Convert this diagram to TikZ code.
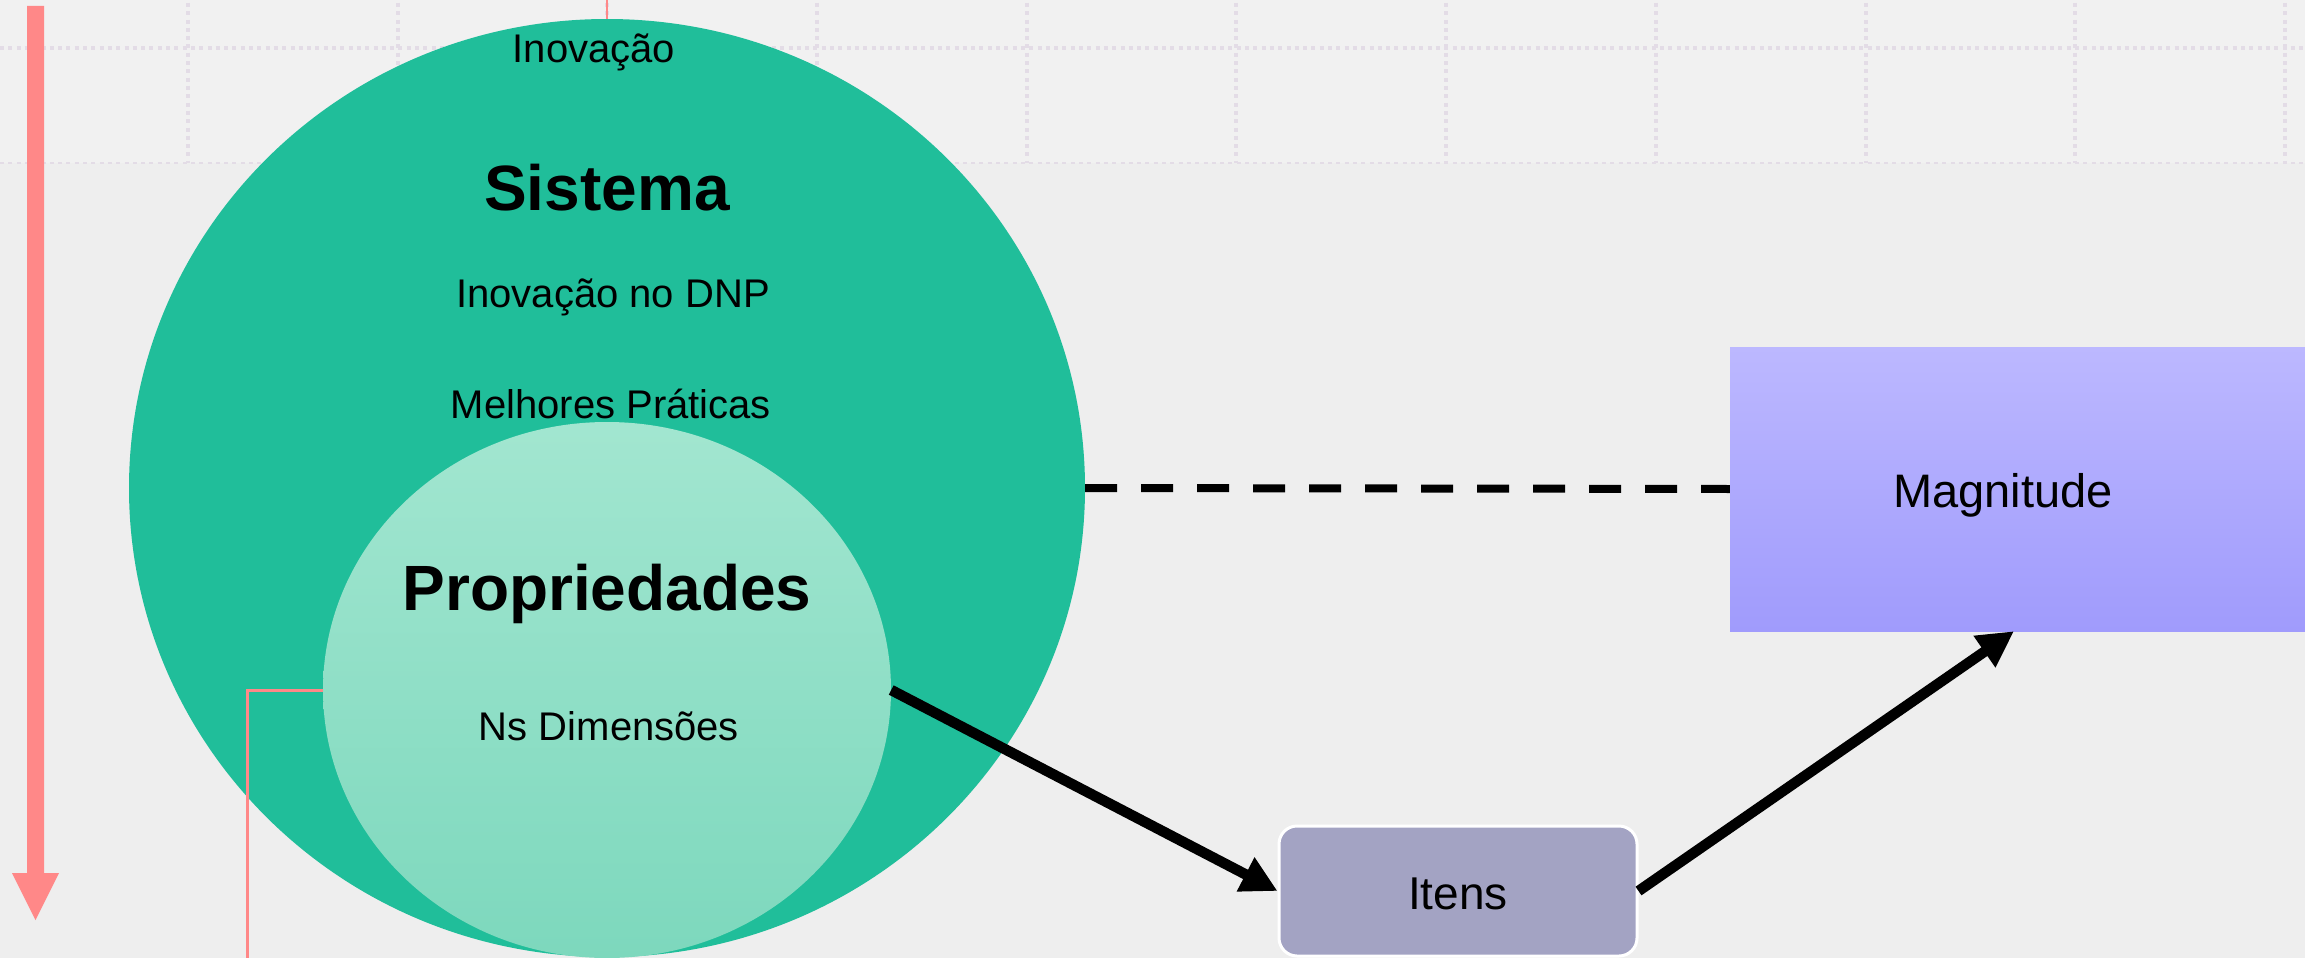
\documentclass[tikz,border=0pt]{standalone}
\usepackage{fontspec}
\setmainfont{Liberation Sans}
\usetikzlibrary{shapes.geometric,arrows.meta}
\definecolor{sysgreen}{HTML}{20BE9A}
\definecolor{propTop}{HTML}{A2E6D0}
\definecolor{propBot}{HTML}{7DD8BD}
\definecolor{magTop}{HTML}{BCB8FF}
\definecolor{magBot}{HTML}{A09BFC}
\definecolor{itensfill}{HTML}{A3A3C3}
\definecolor{pinkc}{HTML}{FF8888}
\definecolor{gridc}{HTML}{E3DCE6}
\definecolor{bgtop}{HTML}{F1F1F1}
\definecolor{bgbot}{HTML}{EEEEEE}
\tikzset{
  txt/.style={inner sep=0pt, text=black, font=\fontsize{40}{48}\selectfont},
  bigtxt/.style={inner sep=0pt, text=black, font=\fontsize{64}{76}\selectfont\bfseries},
  arr/.style={line width=10.5pt, -{Triangle[length=36pt,width=36pt]}},
  dashconn/.style={line width=8pt, dash pattern=on 32pt off 24pt},
  pinkline/.style={draw=pinkc, line width=3pt},
  griddot/.style={draw=gridc, line width=4pt, dash pattern=on 4pt off 4.3pt},
}
\begin{document}
\begin{tikzpicture}[x=1pt,y=-1pt]
\useasboundingbox (0,0) rectangle (2305,958);
\clip (0,0) rectangle (2305,958);
% background
\fill[bgbot] (0,0) rectangle (2305,958);
\fill[bgtop] (0,0) rectangle (2305,163);
% grid
\foreach \gx in {188,398,607,817,1027,1236,1446,1656,1866,2075,2285}
  \draw[griddot] (\gx,3) -- (\gx,163);
\draw[griddot] (0,48) -- (2305,48);
\draw[draw=gridc, line width=1.5pt, dash pattern=on 4pt off 4.3pt] (0,163) -- (2305,163);
% left pink arrow
\fill[pinkc] (27,6) -- (44,6) -- (44,873) -- (59,873) -- (35.5,920) -- (12,873) -- (27,873) -- cycle;
% big circle
\node[ellipse, fill=sysgreen, inner sep=0pt, minimum width=956pt, minimum height=938pt] (sis) at (607,488) {};
\draw[pinkline, line width=2pt] (607,0) -- (sis.north);
% inner ellipse
\node[ellipse, top color=propTop, bottom color=propBot, inner sep=0pt, minimum width=568pt, minimum height=536pt] (prop) at (607,690) {};
\draw[pinkline] (prop.west) -- (247,690) -- (247,965);
% texts
\node[txt] (inov) at (594,52) {Inovação};
\node[bigtxt] (sistema) at (607,188) {Sistema};
\node[txt] (dnp) at (613,297) {Inovação no DNP};
\node[txt] (melh) at (611,404) {Melhores Práticas};
\node[bigtxt] (propt) at (607,594) {Propriedades};
\node[txt] (ns) at (609,726) {Ns Dimensões};
% magnitude box
\node[rectangle, top color=magTop, bottom color=magBot, inner sep=0pt, minimum width=620pt, minimum height=284pt] (mag) at (2040,489) {};
\node[txt, font=\fontsize{47}{56}\selectfont] (magtext) at (2003,495) {Magnitude};
% itens box
\node[rectangle, rounded corners=18pt, fill=itensfill, draw=white, line width=3pt, minimum width=358pt, minimum height=130pt, inner sep=0pt] (itens) at (1458,891) {};
\node[txt, font=\fontsize{46}{55}\selectfont] (itenstext) at (1458,894) {Itens};
% connectors
\draw[dashconn] (sis.east) -- (mag.west);
\draw[arr] (prop.east) -- (itens.west);
\draw[arr] (itens.east) -- ([xshift=11pt]magtext |- mag.south);
\end{tikzpicture}
\end{document}
